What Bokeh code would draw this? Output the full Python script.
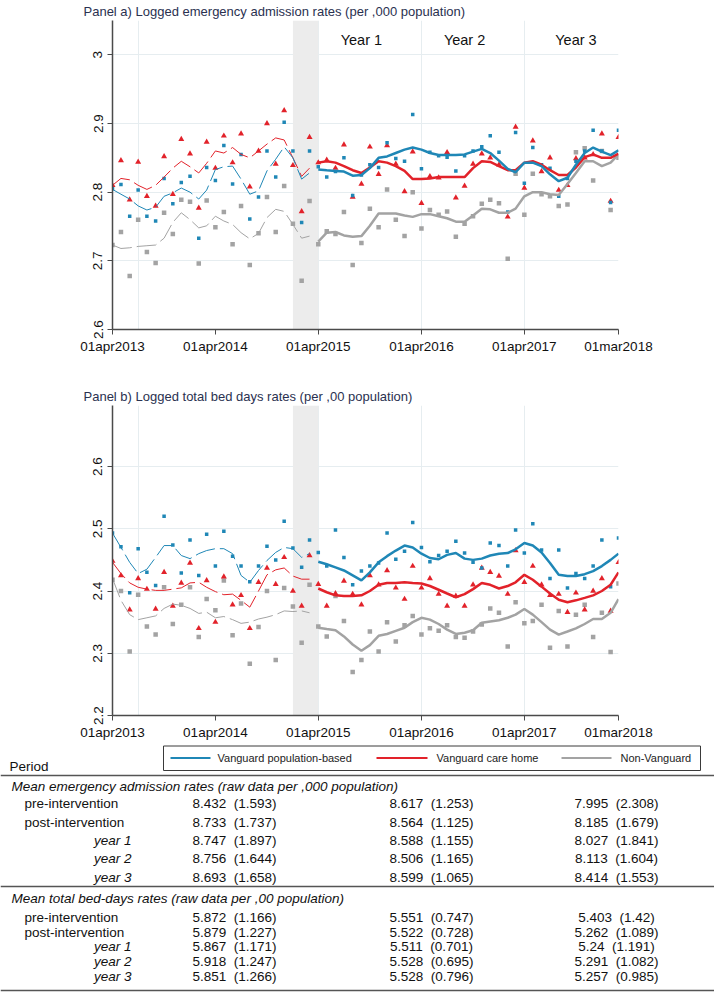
import pandas as pd
from bokeh.plotting import figure
from bokeh.models import ColumnDataSource, FixedTicker, BoxAnnotation, Range1d
from bokeh.layouts import column
from bokeh.embed import file_html
from bokeh.resources import INLINE
from bokeh.core.properties import value

# ---------------- data ----------------
months = pd.date_range("2013-04-01", periods=60, freq="MS")
N_PRE = 24  # Apr 2013 - Mar 2015 pre-intervention

# Panel a: logged emergency admission rates (monthly points)
a_vp_pts = [2.805, 2.811, 2.765, 2.803, 2.765, 2.758, 2.820, 2.783, 2.814, 2.823, 2.733, 2.836,
            2.817, 2.868, 2.812, 2.855, 2.761, 2.793, 2.860, 2.822, 2.902, 2.860, 2.756, 2.860,
            2.837, 2.822, 2.830, 2.850, 2.795, 2.825, 2.840, 2.836, 2.872, 2.849, 2.845, 2.913,
            2.834, 2.858, 2.853, 2.851, 2.831, 2.853, 2.860, 2.866, 2.882, 2.858, 2.771, 2.887,
            2.813, 2.865, 2.840, 2.835, 2.794, 2.820, 2.845, 2.860, 2.890, 2.860, 2.785, 2.890]
a_ch_pts = [2.810, 2.846, 2.789, 2.844, 2.794, 2.780, 2.852, 2.797, 2.877, 2.856, 2.777, 2.873,
            2.835, 2.882, 2.843, 2.885, 2.808, 2.860, 2.900, 2.841, 2.919, 2.839, 2.772, 2.880,
            2.843, 2.847, 2.835, 2.869, 2.793, 2.812, 2.866, 2.826, 2.868, 2.841, 2.801, 2.859,
            2.784, 2.823, 2.821, 2.858, 2.792, 2.809, 2.841, 2.856, 2.850, 2.840, 2.764, 2.895,
            2.806, 2.875, 2.830, 2.850, 2.803, 2.810, 2.849, 2.850, 2.855, 2.885, 2.787, 2.880]
a_nv_pts = [2.723, 2.742, 2.678, 2.760, 2.713, 2.697, 2.770, 2.739, 2.789, 2.786, 2.696, 2.788,
            2.749, 2.771, 2.724, 2.780, 2.694, 2.740, 2.793, 2.742, 2.809, 2.754, 2.671, 2.787,
            2.724, 2.743, 2.739, 2.771, 2.694, 2.726, 2.776, 2.749, 2.804, 2.760, 2.736, 2.800,
            2.747, 2.774, 2.767, 2.772, 2.735, 2.754, 2.765, 2.783, 2.789, 2.784, 2.703, 2.827,
            2.767, 2.827, 2.797, 2.794, 2.780, 2.782, 2.858, 2.864, 2.817, 2.860, 2.774, 2.850]
# pre-intervention trend (thin)
a_vp_pre = [2.804, 2.797, 2.790, 2.780, 2.774, 2.778, 2.794, 2.799, 2.806, 2.800, 2.790, 2.803,
            2.833, 2.837, 2.838, 2.819, 2.797, 2.802, 2.831, 2.848, 2.866, 2.850, 2.819, 2.828]
a_ch_pre = [2.810, 2.820, 2.818, 2.810, 2.804, 2.810, 2.822, 2.835, 2.845, 2.837, 2.828, 2.842,
            2.860, 2.857, 2.865, 2.855, 2.850, 2.860, 2.870, 2.879, 2.876, 2.850, 2.823, 2.835]
a_nv_pre = [2.723, 2.718, 2.719, 2.721, 2.722, 2.723, 2.733, 2.756, 2.770, 2.760, 2.748, 2.751,
            2.765, 2.758, 2.753, 2.741, 2.732, 2.740, 2.763, 2.775, 2.772, 2.753, 2.733, 2.736]
# post-intervention trend (thick)
a_vp_post = [2.833, 2.832, 2.831, 2.830, 2.824, 2.825, 2.835, 2.850, 2.852, 2.857, 2.862, 2.865,
             2.862, 2.857, 2.854, 2.854, 2.854, 2.855, 2.859, 2.863, 2.857, 2.846, 2.834, 2.829,
             2.843, 2.843, 2.838, 2.826, 2.816, 2.821, 2.840, 2.857, 2.865, 2.859, 2.854, 2.861]
a_ch_post = [2.843, 2.845, 2.843, 2.838, 2.832, 2.828, 2.836, 2.845, 2.843, 2.838, 2.831, 2.819,
             2.819, 2.820, 2.822, 2.822, 2.822, 2.822, 2.835, 2.845, 2.844, 2.838, 2.832, 2.832,
             2.843, 2.845, 2.840, 2.832, 2.825, 2.825, 2.836, 2.851, 2.855, 2.850, 2.850, 2.856]
a_nv_post = [2.728, 2.741, 2.742, 2.737, 2.735, 2.736, 2.751, 2.769, 2.769, 2.769, 2.766, 2.764,
             2.768, 2.768, 2.765, 2.762, 2.757, 2.757, 2.766, 2.776, 2.775, 2.770, 2.770, 2.776,
             2.794, 2.800, 2.800, 2.797, 2.796, 2.812, 2.828, 2.845, 2.845, 2.838, 2.843, 2.855]

# Panel b: logged total bed days rates
b_vp_pts = [2.493, 2.471, 2.397, 2.468, 2.430, 2.409, 2.520, 2.474, 2.429, 2.482, 2.425, 2.491,
            2.440, 2.496, 2.456, 2.440, 2.415, 2.440, 2.472, 2.450, 2.512, 2.469, 2.438, 2.482,
            2.462, 2.440, 2.498, 2.454, 2.410, 2.432, 2.440, 2.445, 2.493, 2.451, 2.464, 2.510,
            2.470, 2.447, 2.457, 2.464, 2.480, 2.461, 2.446, 2.437, 2.477, 2.473, 2.440, 2.498,
            2.461, 2.508, 2.466, 2.420, 2.466, 2.405, 2.428, 2.420, 2.440, 2.482, 2.407, 2.485]
b_ch_pts = [2.448, 2.425, 2.370, 2.420, 2.403, 2.371, 2.430, 2.376, 2.413, 2.445, 2.340, 2.417,
            2.350, 2.423, 2.378, 2.393, 2.340, 2.414, 2.437, 2.411, 2.454, 2.400, 2.376, 2.457,
            2.411, 2.376, 2.396, 2.416, 2.395, 2.378, 2.425, 2.410, 2.433, 2.405, 2.387, 2.440,
            2.405, 2.420, 2.395, 2.376, 2.392, 2.376, 2.410, 2.437, 2.430, 2.424, 2.395, 2.465,
            2.414, 2.440, 2.410, 2.393, 2.395, 2.366, 2.397, 2.370, 2.400, 2.420, 2.368, 2.446]
b_nv_pts = [2.418, 2.400, 2.303, 2.394, 2.343, 2.330, 2.406, 2.347, 2.378, 2.406, 2.326, 2.387,
            2.369, 2.417, 2.329, 2.380, 2.283, 2.342, 2.400, 2.289, 2.405, 2.375, 2.317, 2.410,
            2.343, 2.327, 2.392, 2.352, 2.270, 2.289, 2.335, 2.303, 2.350, 2.319, 2.345, 2.360,
            2.330, 2.340, 2.336, 2.345, 2.326, 2.325, 2.335, 2.346, 2.372, 2.365, 2.311, 2.382,
            2.348, 2.352, 2.378, 2.309, 2.368, 2.311, 2.362, 2.378, 2.326, 2.365, 2.302, 2.412]
b_vp_pre = [2.493, 2.470, 2.446, 2.428, 2.435, 2.454, 2.473, 2.473, 2.457, 2.452, 2.460, 2.465,
            2.468, 2.468, 2.460, 2.425, 2.414, 2.433, 2.449, 2.462, 2.470, 2.468, 2.454, 2.460]
b_ch_pre = [2.446, 2.428, 2.413, 2.406, 2.403, 2.401, 2.401, 2.403, 2.405, 2.413, 2.414, 2.406,
            2.399, 2.394, 2.395, 2.385, 2.374, 2.400, 2.426, 2.434, 2.437, 2.424, 2.419, 2.419]
b_nv_pre = [2.420, 2.385, 2.362, 2.354, 2.357, 2.360, 2.372, 2.379, 2.377, 2.372, 2.364, 2.366,
            2.357, 2.359, 2.354, 2.348, 2.350, 2.355, 2.358, 2.362, 2.368, 2.367, 2.368, 2.365]
b_vp_post = [2.447, 2.443, 2.438, 2.433, 2.425, 2.417, 2.430, 2.446, 2.456, 2.465, 2.473, 2.470,
             2.460, 2.453, 2.451, 2.458, 2.461, 2.452, 2.450, 2.452, 2.457, 2.460, 2.461, 2.467,
             2.477, 2.473, 2.462, 2.445, 2.426, 2.424, 2.424, 2.427, 2.432, 2.440, 2.450, 2.460]
b_ch_post = [2.404, 2.398, 2.393, 2.392, 2.392, 2.393, 2.400, 2.410, 2.413, 2.413, 2.414, 2.413,
             2.412, 2.408, 2.402, 2.396, 2.390, 2.395, 2.403, 2.413, 2.410, 2.404, 2.408, 2.414,
             2.426, 2.418, 2.407, 2.396, 2.386, 2.382, 2.385, 2.389, 2.393, 2.400, 2.410, 2.430]
b_nv_post = [2.341, 2.339, 2.337, 2.327, 2.314, 2.304, 2.313, 2.328, 2.331, 2.336, 2.341, 2.350,
             2.357, 2.354, 2.347, 2.338, 2.331, 2.333, 2.337, 2.349, 2.351, 2.353, 2.357, 2.362,
             2.371, 2.362, 2.350, 2.338, 2.330, 2.335, 2.340, 2.347, 2.355, 2.355, 2.365, 2.387]

x_tick_dates = ["2013-04-01", "2014-04-01", "2015-04-01", "2016-04-01", "2017-04-01", "2018-03-01"]
x_tick_labels = ["01apr2013", "01apr2014", "01apr2015", "01apr2016", "01apr2017", "01mar2018"]
a_yticks = [2.6, 2.7, 2.8, 2.9, 3.0]
a_ytick_labels = ["2.6", "2.7", "2.8", "2.9", "3"]
b_yticks = [2.2, 2.3, 2.4, 2.5, 2.6]
b_ytick_labels = ["2.2", "2.3", "2.4", "2.5", "2.6"]
grid_dates = ["2013-07-01", "2015-04-01", "2016-04-01", "2017-04-01"]
band_dates = ["2015-01-01", "2015-04-01"]
year_labels = ["Year 1", "Year 2", "Year 3"]
year_label_dates = ["2015-09-01", "2016-09-01", "2017-10-01"]

series_names = ["Vanguard population-based", "Vanguard care home", "Non-Vanguard"]

table_rows = ["pre-intervention", "post-intervention", "year 1", "year 2", "year 3"]
em_mean_vp = [8.432, 8.733, 8.747, 8.756, 8.693]
em_sd_vp = [1.593, 1.737, 1.897, 1.644, 1.658]
em_mean_ch = [8.617, 8.564, 8.588, 8.506, 8.599]
em_sd_ch = [1.253, 1.125, 1.155, 1.165, 1.065]
em_mean_nv = [7.995, 8.185, 8.027, 8.113, 8.414]
em_sd_nv = [2.308, 1.679, 1.841, 1.604, 1.553]
bd_mean_vp = [5.872, 5.879, 5.867, 5.918, 5.851]
bd_sd_vp = [1.166, 1.227, 1.171, 1.247, 1.266]
bd_mean_ch = [5.551, 5.522, 5.511, 5.528, 5.528]
bd_sd_ch = [0.747, 0.728, 0.701, 0.695, 0.796]
bd_mean_nv = [5.403, 5.262, 5.24, 5.291, 5.257]
bd_sd_nv = [1.42, 1.089, 1.191, 1.082, 0.985]

# ---------------- style ----------------
C_VP = "#1f87b6"
C_CH = "#e2222a"
C_NV = "#a3a3a3"
FONT = "Liberation Sans"
TITLE_C = "#2a3150"
W = 714


def ms(d):
    return pd.Timestamp(d).value // 10**6


def make_panel(title, pts, pre, post, yr, yticks, ylabels, height, top, bottom, year_lbls=False):
    p = figure(width=W, height=height, output_backend="svg", toolbar_location=None,
               x_axis_type="datetime", x_range=Range1d(ms(months[0]), ms(months[-1])),
               y_range=Range1d(*yr), min_border_left=112, min_border_right=96,
               min_border_top=top, min_border_bottom=bottom)
    p.outline_line_color = None
    p.background_fill_color = "white"
    p.border_fill_color = "white"

    p.title.text = title
    p.title.align = "left"
    p.title.offset = -29
    p.title.standoff = 3
    p.title.text_font = FONT
    p.title.text_font_size = "13px"
    p.title.text_font_style = "normal"
    p.title.text_color = TITLE_C

    p.add_layout(BoxAnnotation(left=ms(band_dates[0]), right=ms(band_dates[1]),
                               fill_color="#ececec", fill_alpha=1.0, line_color=None,
                               level="underlay"))

    p.ygrid.ticker = FixedTicker(ticks=yticks)
    p.ygrid.grid_line_color = "#e6edf0"
    p.xgrid.ticker = FixedTicker(ticks=[ms(d) for d in grid_dates])
    p.xgrid.grid_line_color = "#e6edf0"

    xt = [ms(d) for d in x_tick_dates]
    p.xaxis.ticker = FixedTicker(ticks=xt)
    p.xaxis.major_label_overrides = dict(zip(xt, x_tick_labels))
    p.yaxis.ticker = FixedTicker(ticks=yticks)
    p.yaxis.major_label_overrides = dict(zip(yticks, ylabels))
    p.yaxis.major_label_orientation = "vertical"
    for ax in (p.xaxis, p.yaxis):
        ax.axis_line_color = "#4a4a4a"
        ax.axis_line_width = 1.5
        ax.major_tick_line_color = "#4a4a4a"
        ax.major_tick_out = 5
        ax.major_tick_in = 0
        ax.minor_tick_line_color = None
        ax.major_label_text_font = FONT
        ax.major_label_text_font_size = "13.5px"
        ax.major_label_text_color = "#111111"
    p.xaxis.major_label_standoff = 4
    p.yaxis.major_label_standoff = 5

    vp, ch, nv = pts
    src = ColumnDataSource(dict(x=months, vp=vp, ch=ch, nv=nv))
    p.scatter("x", "nv", source=src, marker="square", size=4.5, color=C_NV, line_color=None)
    p.scatter("x", "ch", source=src, marker="triangle", size=6, color=C_CH, line_color=None)
    p.scatter("x", "vp", source=src, marker="square", size=3.5, color=C_VP, line_color=None)

    pre_src = ColumnDataSource(dict(x=months[:N_PRE], vp=pre[0], ch=pre[1], nv=pre[2]))
    post_src = ColumnDataSource(dict(x=months[N_PRE:], vp=post[0], ch=post[1], nv=post[2]))
    for key, col in (("nv", C_NV), ("ch", C_CH), ("vp", C_VP)):
        p.line("x", key, source=pre_src, color=col, line_width=1, line_dash="20 5")
    for key, col in (("nv", C_NV), ("ch", C_CH), ("vp", C_VP)):
        p.line("x", key, source=post_src, color=col, line_width=2.5)

    if year_lbls:
        ysrc = ColumnDataSource(dict(x=[ms(d) for d in year_label_dates],
                                     y=[3.021] * len(year_labels), t=year_labels))
        p.text("x", "y", text="t", source=ysrc, text_font=value(FONT),
               text_font_size="14.5px", text_align="center", text_baseline="middle",
               text_color="#111111")
    return p


# panel a: frame 19..329 ; panel b: frame 405..715 (page pixels)
pa = make_panel("Panel a) Logged emergency admission rates (per ,000 population)",
                (a_vp_pts, a_ch_pts, a_nv_pts), (a_vp_pre, a_ch_pre, a_nv_pre),
                (a_vp_post, a_ch_post, a_nv_post), (2.6, 3.05), a_yticks, a_ytick_labels,
                382, 19, 53, year_lbls=True)
pb = make_panel("Panel b) Logged total bed days rates (per ,00 population)",
                (b_vp_pts, b_ch_pts, b_nv_pts), (b_vp_pre, b_ch_pre, b_nv_pre),
                (b_vp_post, b_ch_post, b_nv_post), (2.2, 2.698), b_yticks, b_ytick_labels,
                362, 23, 29)

# ---------------- legend + table (own root, page-pixel coordinates) ----------------
T_TOP = 744
T_BOT = 993
pt = figure(width=W, height=T_BOT - T_TOP, output_backend="svg", toolbar_location=None,
            x_range=Range1d(0, W), y_range=Range1d(T_BOT, T_TOP),
            x_axis_location=None, y_axis_location=None,
            min_border=0, min_border_left=0, min_border_right=0,
            min_border_top=0, min_border_bottom=0)
pt.grid.visible = False
pt.outline_line_color = None

# legend
pt.quad(left=[163], right=[700], top=[745.5], bottom=[770], fill_color=None,
        line_color="#3a3a3a", line_width=1)
leg_src = ColumnDataSource(dict(x0=[170, 376, 561], x1=[210, 427, 611],
                                y=[757.5] * 3, c=[C_VP, C_CH, C_NV],
                                tx=[217, 436, 620], t=series_names))
pt.segment(x0="x0", y0="y", x1="x1", y1="y", color="c", line_width=2, source=leg_src)
pt.text(x="tx", y="y", text="t", source=leg_src, text_font=value(FONT),
        text_font_size="11px", text_baseline="middle", text_color="#222222")

TXT = dict(text_font=value(FONT), text_font_size="13.5px", text_baseline="middle",
           text_color="#111111")
pt.text(x=[9], y=[766], text=["Period"], **TXT)
pt.segment(x0=[0, 0, 0], x1=[W, W, W], y0=[775, 886, 990], y1=[775, 886, 990],
           line_color="#555555", line_width=1.3)

GAP = "\u00a0\u00a0"


def section(header, y_head, row_ys, means, sds):
    pt.text(x=[11], y=[y_head], text=[header], text_font_style="italic", **TXT)
    plain = [(r, y) for r, y in zip(table_rows, row_ys) if not r.startswith("year")]
    ital = [(r, y) for r, y in zip(table_rows, row_ys) if r.startswith("year")]
    pt.text(x=[24] * len(plain), y=[y for _, y in plain], text=[r for r, _ in plain], **TXT)
    pt.text(x=[131] * len(ital), y=[y for _, y in ital], text=[r for r, _ in ital],
            text_align="right", text_font_style="italic", **TXT)
    for cx, m, s in zip([234, 431, 616], means, sds):
        labels = [f"{a}{GAP}({b})" for a, b in zip(m, s)]
        pt.text(x=[cx] * len(labels), y=row_ys, text=labels, text_align="center", **TXT)


section("Mean emergency admission rates (raw data per ,000 population)", 786,
        [803, 821.5, 840, 858, 876.5],
        (em_mean_vp, em_mean_ch, em_mean_nv), (em_sd_vp, em_sd_ch, em_sd_nv))
section("Mean total bed-days rates (raw data per ,00 population)", 898,
        [917, 931.5, 946, 961, 976],
        (bd_mean_vp, bd_mean_ch, bd_mean_nv), (bd_sd_vp, bd_sd_ch, bd_sd_nv))

top_col = column(pa, pb, spacing=0)
open("out.html", "w").write(file_html([top_col, pt], INLINE))
